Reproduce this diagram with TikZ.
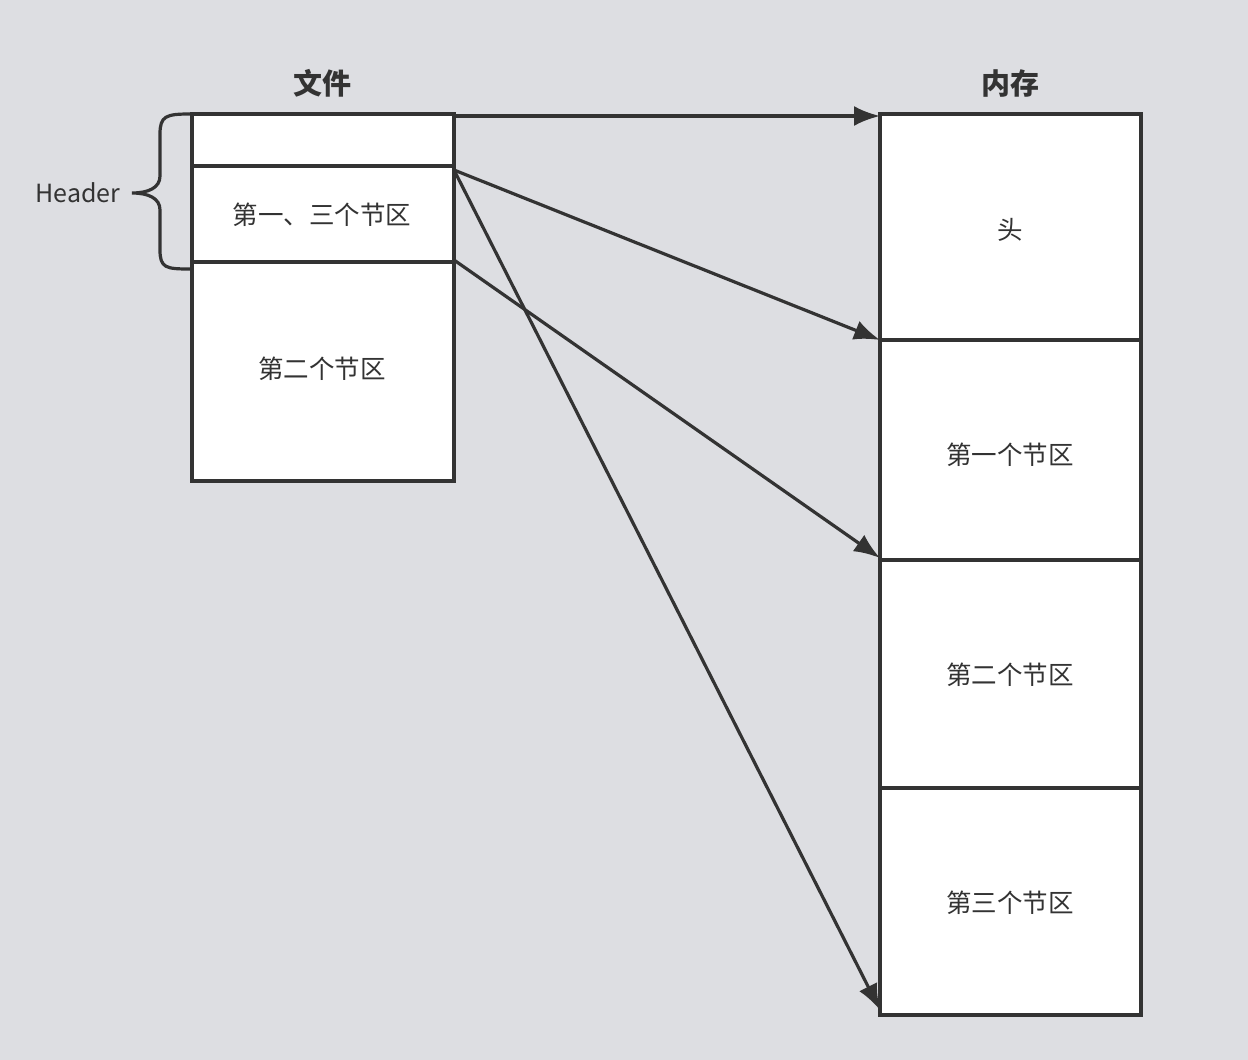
\documentclass[tikz,border=0pt]{standalone}
\usepackage{fontspec}
\setmainfont{Noto Sans CJK SC}
\usetikzlibrary{arrows.meta}
\definecolor{bg}{HTML}{DDDEE2}
\definecolor{ink}{HTML}{333333}
\begin{document}
\begin{tikzpicture}[x=1pt,y=-1pt,
  cell/.style={draw=ink,fill=white,line width=3.2pt,outer sep=0pt,inner sep=0pt,
    anchor=north west,minimum width=262pt},
  mcell/.style={cell,minimum width=261pt},
  txt/.style={font=\fontsize{25.5}{30}\selectfont,text=ink},
  title/.style={font=\bfseries\fontsize{29}{34}\selectfont,text=ink},
  conn/.style={draw=ink,line width=3.2pt,-{Latex[length=26pt,width=20pt]}}]
\fill[bg] (0,0) rectangle (1248,1060);
\useasboundingbox (0,0) rectangle (1248,1060);
% file
\node[cell,minimum height=52pt] (f1) at (192,114) {};
\node[cell,minimum height=96pt] (f2) at (192,166) {};
\node[cell,minimum height=219pt] (f3) at (192,262) {};
\node[txt] (tf2) at (322,215) {第一、三个节区};
\node[txt] (tf3) at (322,369) {第二个节区};
% memory
\node[mcell,minimum height=226pt] (m1) at (880,114) {};
\node[mcell,minimum height=220pt] (m2) at (880,340) {};
\node[mcell,minimum height=228pt] (m3) at (880,560) {};
\node[mcell,minimum height=227pt] (m4) at (880,788) {};
\node[txt] (tm1) at (1010,230) {头};
\node[txt] (tm2) at (1010,455) {第一个节区};
\node[txt] (tm3) at (1010,675) {第二个节区};
\node[txt] (tm4) at (1010,903) {第三个节区};
% titles
\node[title] (t1) at (322,83) {文件};
\node[title] (t2) at (1010,83) {内存};
% header brace
\node[font=\fontsize{25}{30}\selectfont,text=ink] (hd) at (78,193) {Header};
\draw[ink,line width=3.2pt] (190,114) .. controls (166,114) and (160,116) .. (160,134) -- (160,176)
  .. controls (160,188) and (148,193) .. (132,193)
  .. controls (148,193) and (160,198) .. (160,210) -- (160,250)
  .. controls (160,268) and (166,269) .. (190,269);
% connectors
\coordinate (e4) at (880,1010);
\coordinate (e3) at (880,558);
\coordinate (s2) at (454,170);
\coordinate (s3) at (454,260);
\draw[conn] ([yshift=-2pt]f1.north east) -- ([yshift=-2pt]m1.north west);
\draw[conn] (s2) -- (m1.south west);
\draw[conn] (s3) -- (e3);
\draw[conn] (s2) -- (e4);
\end{tikzpicture}
\end{document}
